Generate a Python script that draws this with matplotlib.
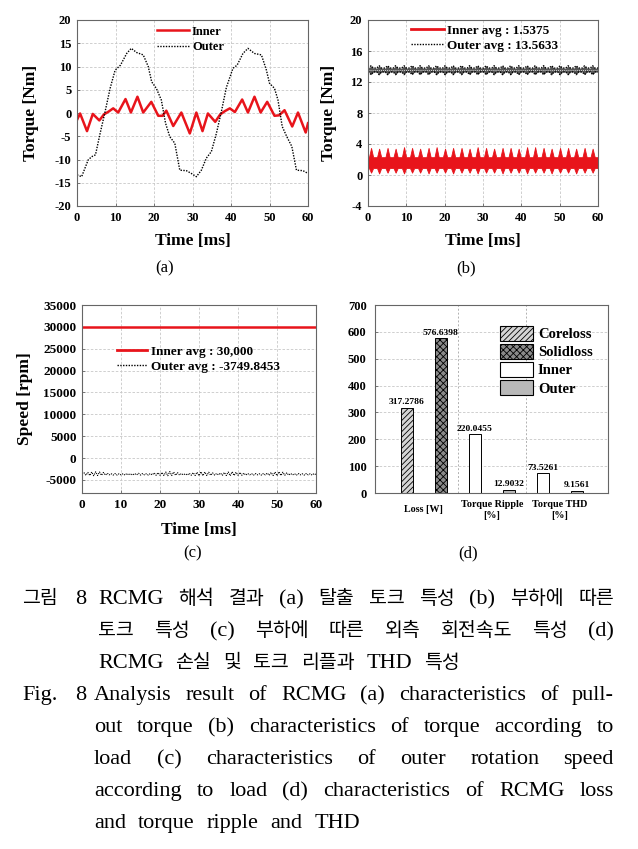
import numpy as np
import matplotlib
matplotlib.use("Agg")
import matplotlib.pyplot as plt
from matplotlib.patches import Patch
from matplotlib.lines import Line2D

W, H = 638, 849
SERIF = "Liberation Serif"
KOREAN = "Noto Sans CJK KR"
RED = "#e8141b"

plt.rcParams["font.family"] = SERIF
plt.rcParams["font.weight"] = "bold"
plt.rcParams["axes.labelweight"] = "bold"
plt.rcParams["axes.unicode_minus"] = False
plt.rcParams["hatch.linewidth"] = 0.6

# (a) pull-out torque
a_inner_t = [0, 0.8, 2.6, 4.1, 5.8, 7.0, 8.2, 9.4, 10.7, 12.6, 14.0, 15.7, 17.2, 19.3,
             21.1, 22.2, 23.2, 25.0, 27.1, 29.3, 31.0, 32.6, 34.0, 35.9, 37.2, 38.4,
             39.7, 41.0, 42.9, 44.4, 46.1, 47.7, 49.4, 51.3, 52.5, 53.9, 55.9, 57.4, 59.4, 60]
a_inner_v = [-1.5, -0.1, -3.9, -0.2, -1.6, -0.3, 0.3, 1.0, 0.1, 3.0, 0.1, 3.5, 0.1, 2.4,
             -0.6, -0.6, 0.5, -2.8, 0.1, -4.4, 0.1, -3.9, -0.1, -1.9, -0.3, 0.4,
             1.0, 0.2, 2.9, 0.1, 3.5, 0.1, 2.4, -0.6, -0.5, 0.6, -2.9, 0.1, -4.2, -2.2]
a_outer_t = [0, 1.2, 2.9, 3.8, 4.8, 6.0, 7.3, 8.6, 9.9, 11.3, 12.9, 14.1, 15.5, 17.2,
             18.5, 19.4, 20.6, 21.9, 23.0, 24.1, 25.4, 26.7, 28.4, 29.7, 31.0, 32.3,
             33.6, 34.9, 36.2, 37.5, 38.8, 40.5, 41.6, 43.1, 44.4, 46.1, 47.9, 49.2,
             50.0, 51.3, 52.2, 53.3, 54.5, 55.8, 57.0, 58.7, 60]
a_outer_v = [-13.3, -13.7, -10.1, -9.4, -9.0, -4.4, 0.3, 5.3, 9.2, 10.3, 12.8, 13.9, 13.0, 12.5,
             10.0, 6.7, 5.3, 2.8, -2.2, -5.1, -6.5, -12.3, -12.4, -13.0, -13.7, -12.3,
             -9.7, -8.3, -4.4, 0.3, 5.5, 9.6, 10.3, 12.8, 13.9, 12.8, 12.5, 9.2,
             6.4, 5.3, 2.8, -2.9, -5.1, -7.2, -12.3, -12.4, -13.0]

# (b) torque under load: ripple spike times and envelope levels
b_peak_t = [0.8, 2.9, 5.1, 7.2, 9.4, 11.5, 13.6, 15.8, 17.9, 20.1, 22.2, 24.4, 26.5, 28.6,
            30.8, 32.9, 35.1, 37.2, 39.3, 41.5, 43.6, 45.8, 47.9, 50.1, 52.2, 54.3, 56.5, 58.6]
b_inner_hi = [3.5, 3.4, 3.5, 3.4, 3.6, 3.5, 3.4, 3.5, 3.6, 3.4, 3.5, 3.5, 3.4, 3.6,
              3.5, 3.4, 3.5, 3.5, 3.4, 3.6, 3.6, 3.5, 3.4, 3.5, 3.5, 3.4, 3.5, 3.4]
b_inner_lo = [0.3, 0.2, 0.3, 0.3, 0.2, 0.3, 0.3, 0.2, 0.3, 0.3, 0.2, 0.3, 0.3, 0.2,
              0.3, 0.3, 0.2, 0.3, 0.3, 0.2, 0.3, 0.3, 0.2, 0.3, 0.3, 0.2, 0.3, 0.3]
b_inner_gap = (0.9, 2.3)
b_outer_knot = (12.95, 14.1)
b_outer_gap = (13.3, 13.8)
b_inner_avg = 1.5375
b_outer_avg = 13.5633

# (c) speed: outer rotor sampled every 0.5 ms
c_t = np.arange(0, 60.01, 0.5)
c_inner = 30000
c_outer = [-3650, -3350, -3950, -3300, -4000, -3200, -4050, -3150, -4000, -3200,
           -3950, -3300, -3900, -3500, -3850, -3600, -3900, -3550, -3900, -3600,
           -3850, -3600, -3900, -3550, -3850, -3600, -3900, -3550, -3850, -3500,
           -3900, -3550, -3850, -3600, -3900, -3550, -3850, -3400, -3950, -3350,
           -3950, -3300, -4000, -3200, -4050, -3100, -4000, -3200, -3950, -3350,
           -3900, -3550, -3850, -3600, -3900, -3500, -3950, -3350, -4000, -3250,
           -4050, -3150, -4050, -3200, -4000, -3250, -3950, -3400, -3900, -3550,
           -3850, -3450, -3950, -3300, -4000, -3200, -4050, -3150, -4000, -3250,
           -3950, -3300, -3950, -3450, -3900, -3550, -3850, -3600, -3900, -3550,
           -3850, -3600, -3900, -3550, -3850, -3450, -3950, -3300, -4000, -3200,
           -4050, -3150, -4000, -3250, -3950, -3400, -3900, -3550, -3850, -3600,
           -3900, -3550, -3850, -3600, -3900, -3550, -3850, -3600, -3900, -3550, -3800]

# (d) loss, ripple and THD
d_groups = ["Loss [W]", "Torque Ripple\n[%]", "Torque THD\n[%]"]
d_loss = [317.2786, 576.6398]
d_ripple = [220.0455, 12.9032]
d_thd = [73.5261, 9.1561]

cap_ko = ["RCMG 해석 결과 (a) 탈출 토크 특성 (b) 부하에 따른",
          "토크 특성 (c) 부하에 따른 외측 회전속도 특성 (d)",
          "RCMG 손실 및 토크 리플과 THD 특성"]
cap_en = ["Analysis result of RCMG (a) characteristics of pull-",
          "out torque (b) characteristics of torque according to",
          "load (c) characteristics of outer rotation speed",
          "according to load (d) characteristics of RCMG loss",
          "and torque ripple and THD"]

fig = plt.figure(figsize=(W / 100, H / 100), dpi=100)


def add_ax(l, t, r, b):
    return fig.add_axes([l / W, 1 - b / H, (r - l) / W, (b - t) / H])


def style(ax, size=9):
    for s in ax.spines.values():
        s.set_color("#666666")
        s.set_linewidth(0.8)
    ax.grid(True, color="#c8c8c8", linestyle=(0, (3, 2)), linewidth=0.6)
    ax.set_axisbelow(True)
    ax.tick_params(direction="in", length=2.5, width=0.6, labelsize=size,
                   color="#666666", pad=4)


def spike_env(peaks, tops, bots, gap, half=0.55):
    t, lo, hi = [0.0], [gap[0]], [gap[1]]
    for p, h, l in zip(peaks, tops, bots):
        t += [p - half, p, p + half]
        lo += [gap[0], l, gap[0]]
        hi += [gap[1], h, gap[1]]
    t.append(60.0)
    lo.append(gap[0])
    hi.append(gap[1])
    return np.array(t), np.array(lo), np.array(hi)


def time_axis(ax, ylabel, ylab_x, xlab_y):
    ax.set_xlim(0, 60)
    ax.set_xticks(range(0, 61, 10))
    ax.set_xlabel("Time [ms]", fontsize=12.5, fontweight="bold")
    ax.set_ylabel(ylabel, fontsize=12.5, fontweight="bold")
    ax.xaxis.set_label_coords(0.5, xlab_y)
    ax.yaxis.set_label_coords(ylab_x, 0.5)


# (a)
ax = add_ax(77, 20, 308, 206)
style(ax)
ax.plot(a_inner_t, a_inner_v, color=RED, lw=1.8, label="Inner")
ax.plot(a_outer_t, a_outer_v, color="black", lw=1.0, ls=(0, (1, 1)), label="Outer")
ax.set_ylim(-20, 20)
ax.set_yticks(range(-20, 21, 5))
time_axis(ax, "Torque [Nm]", -0.165, -0.145)
ax.legend(loc="upper left", bbox_to_anchor=(0.346, 0.97), frameon=False, fontsize=9,
          handlelength=2.6, handletextpad=0.2, labelspacing=0.3, borderpad=0, borderaxespad=0)

# (b)
ax = add_ax(368, 20, 598, 206)
style(ax)
t, lo, hi = spike_env(b_peak_t, b_inner_hi, b_inner_lo, b_inner_gap)
ax.fill_between(t, lo, hi, color=RED, lw=0.6)
knot_hi = [b_outer_knot[1]] * len(b_peak_t)
knot_lo = [b_outer_knot[0]] * len(b_peak_t)
t, lo, hi = spike_env(b_peak_t, knot_hi, knot_lo, b_outer_gap, half=0.6)
ax.fill_between(t, lo, hi, color="#555555", lw=0)
ax.plot(t, hi, color="black", lw=1.0, ls=(0, (1, 1)))
ax.plot(t, lo, color="black", lw=1.0, ls=(0, (1, 1)))
ax.axhline(b_outer_avg, color="white", lw=0.6, ls=(0, (1, 1.5)))
ax.set_ylim(-4, 20)
ax.set_yticks(range(-4, 21, 4))
time_axis(ax, "Torque [Nm]", -0.135, -0.145)
handles = [Line2D([], [], color=RED, lw=2.0), Line2D([], [], color="black", lw=1.0, ls=(0, (1, 1)))]
ax.legend(handles, [f"Inner avg : {b_inner_avg}", f"Outer avg : {b_outer_avg}"],
          loc="upper left", bbox_to_anchor=(0.187, 0.975), frameon=False, fontsize=9.5,
          handlelength=2.5, handletextpad=0.2, labelspacing=0.2, borderpad=0, borderaxespad=0)

# (c)
ax = add_ax(82, 305, 316, 493)
style(ax, 9.5)
ax.plot([0, 60], [c_inner, c_inner], color=RED, lw=1.8)
ax.plot(c_t, c_outer, color="black", lw=0.8, ls=(0, (1, 1)))
ax.set_ylim(-8000, 35000)
ax.set_yticks(range(-5000, 35001, 5000))
time_axis(ax, "Speed [rpm]", -0.21, -0.154)
handles = [Line2D([], [], color=RED, lw=2.0), Line2D([], [], color="black", lw=1.0, ls=(0, (1, 1)))]
ax.legend(handles, ["Inner avg : 30,000", "Outer avg : -3749.8453"],
          loc="upper left", bbox_to_anchor=(0.15, 0.785), frameon=False, fontsize=9.5,
          handlelength=2.3, handletextpad=0.3, labelspacing=0.2, borderpad=0, borderaxespad=0)

# (d)
ax = add_ax(375, 305, 608, 493)
style(ax)
ax.grid(False)
ax.yaxis.grid(True, color="#c8c8c8", linestyle=(0, (3, 2)), linewidth=0.6)
for gx in (0.5, 1.5):
    ax.axvline(gx, color="#b0b0b0", linestyle=(0, (2, 2)), linewidth=0.7, zorder=0)
bw, off = 0.18, 0.25
kinds = [
    ("Coreloss", dict(facecolor="#d4d4d4", hatch="//////")),
    ("Solidloss", dict(facecolor="#8a8a8a", hatch="xxxxx")),
    ("Inner", dict(facecolor="white")),
    ("Outer", dict(facecolor="#b8b8b8")),
]
bars = [(0 - off, d_loss[0], 0), (0 + off, d_loss[1], 1),
        (1 - off, d_ripple[0], 2), (1 + off, d_ripple[1], 3),
        (2 - off, d_thd[0], 2), (2 + off, d_thd[1], 3)]
for x, v, k in bars:
    ax.bar(x, v, width=bw, edgecolor="black", linewidth=0.7, **kinds[k][1])
    ax.annotate(f"{v}", (x, v), xytext=(0, 1), textcoords="offset points",
                ha="center", va="bottom", fontsize=6.8)
ax.set_xlim(-0.72, 2.71)
ax.set_ylim(0, 700)
ax.set_yticks(range(0, 701, 100))
ax.set_xticks([0, 1, 2])
ax.set_xticklabels([])
ax.tick_params(axis="x", length=0)
ax.tick_params(axis="y", pad=6)
for i, g in enumerate(d_groups):
    ax.text(i, -0.09, g, transform=ax.get_xaxis_transform(), ha="center", va="center",
            fontsize=7.3, linespacing=1.35)
patches = [Patch(edgecolor="black", linewidth=0.8, **kw) for _, kw in kinds]
ax.legend(patches, [n for n, _ in kinds], loc="upper left", bbox_to_anchor=(0.536, 0.888),
          frameon=False, fontsize=10.5, handlelength=2.3, handleheight=1.15,
          labelspacing=0.2, handletextpad=0.3, borderpad=0, borderaxespad=0)

# panel letters
for s, x, y in [("(a)", 165, 268), ("(b)", 466, 268), ("(c)", 193, 553), ("(d)", 468, 553)]:
    fig.text(x / W, 1 - y / H, s, ha="center", va="center", fontsize=12, fontweight="normal")

# caption, justified word by word
renderer = fig.canvas.get_renderer()


def is_hangul(w):
    return any("\uac00" <= ch <= "\ud7a3" for ch in w)


def word(x, base, w):
    if is_hangul(w):
        return fig.text(x / W, 1 - base / H, w, family=KOREAN, fontsize=14,
                        fontweight="normal", va="baseline")
    return fig.text(x / W, 1 - base / H, w, family=SERIF, fontsize=16,
                    fontweight="normal", va="baseline")


def caption_line(text, x0, x1, base, justify=True):
    items = [word(0, base, w) for w in text.split()]
    widths = [t.get_window_extent(renderer).width for t in items]
    gap = 12
    if justify and len(items) > 1:
        gap = (x1 - x0 - sum(widths)) / (len(items) - 1)
    x = x0
    for t, w in zip(items, widths):
        t.set_x(x / W)
        x += w + gap


base = 604
word(22, base, "그림")
word(75, base, "8")
for i, line in enumerate(cap_ko):
    caption_line(line, 98, 614, base + 32 * i, justify=i < len(cap_ko) - 1)
base = 604 + 32 * len(cap_ko)
word(22, base, "Fig.")
word(75, base, "8")
for i, line in enumerate(cap_en):
    caption_line(line, 94, 614, base + 32 * i, justify=i < len(cap_en) - 1)

fig.savefig("out.png", dpi=100)
